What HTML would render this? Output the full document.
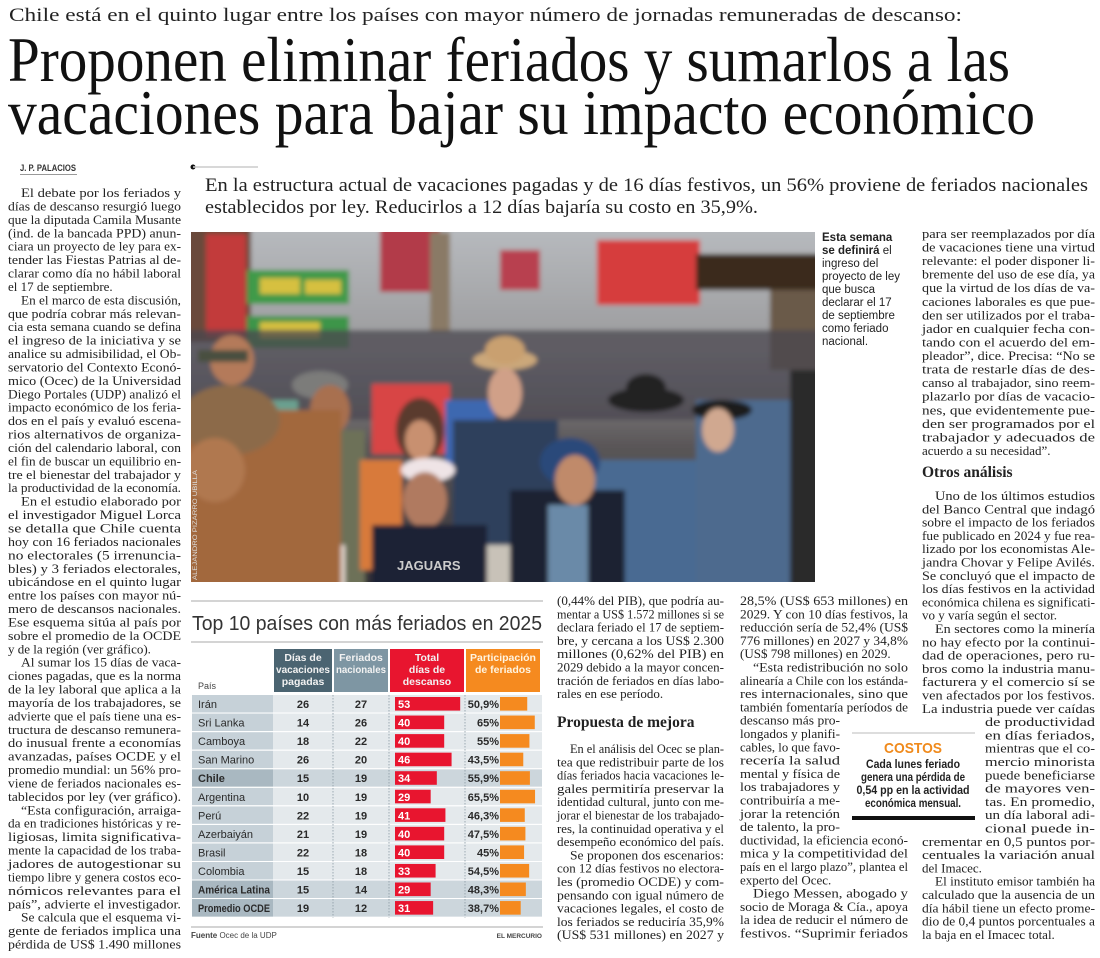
<!DOCTYPE html>
<html><head><meta charset="utf-8"><style>
html,body{margin:0;padding:0;background:#fff;}
svg{display:block;}
.serif{font-family:"Liberation Serif",serif;}
.sans{font-family:"Liberation Sans",sans-serif;}
</style></head><body>
<svg id="page" width="1100" height="958" viewBox="0 0 1100 958" xmlns="http://www.w3.org/2000/svg">
<rect x="0" y="0" width="1100" height="958" fill="#fff"/>
<text class="serif" x="9" y="21" font-size="19" fill="#222" textLength="953" lengthAdjust="spacingAndGlyphs">Chile está en el quinto lugar entre los países con mayor número de jornadas remuneradas de descanso:</text>
<text class="serif" x="8" y="81" font-size="64" fill="#111" textLength="1002" lengthAdjust="spacingAndGlyphs">Proponen eliminar feriados y sumarlos a las</text>
<text class="serif" x="8" y="134" font-size="64" fill="#111" textLength="1027" lengthAdjust="spacingAndGlyphs">vacaciones para bajar su impacto económico</text>
<text class="sans" x="20" y="171" font-size="9" font-weight="bold" fill="#333" textLength="56" lengthAdjust="spacingAndGlyphs">J. P. PALACIOS</text>
<line x1="20" y1="174.5" x2="77" y2="174.5" stroke="#999" stroke-width="1"/>
<circle cx="193" cy="167" r="2.5" fill="#111"/>
<line x1="193" y1="167" x2="258" y2="167" stroke="#ccc" stroke-width="1.5"/>
<text class="serif" x="205" y="191" font-size="18.5" fill="#222" textLength="883" lengthAdjust="spacingAndGlyphs">En la estructura actual de vacaciones pagadas y de 16 días festivos, un 56% proviene de feriados nacionales</text>
<text class="serif" x="205" y="213" font-size="18.5" fill="#222" textLength="553" lengthAdjust="spacingAndGlyphs">establecidos por ley. Reducirlos a 12 días bajaría su costo en 35,9%.</text>

<g id="photo">
<defs>
<clipPath id="pc"><rect x="191" y="232" width="624" height="350"/></clipPath>
<filter id="soft" x="-5%" y="-5%" width="110%" height="110%"><feGaussianBlur stdDeviation="2.5"/></filter>
<linearGradient id="sky" x1="0" y1="0" x2="0" y2="1"><stop offset="0" stop-color="#b9bcc0"/><stop offset="0.35" stop-color="#9a9a9c"/><stop offset="0.6" stop-color="#5a5658"/><stop offset="1" stop-color="#2f2e33"/></linearGradient>
</defs>
<g clip-path="url(#pc)">
<g filter="url(#soft)">
<rect x="180" y="220" width="650" height="375" fill="url(#sky)"/>
<rect x="180" y="220" width="71" height="122" fill="#6a4a3a"/>
<rect x="206" y="234" width="40" height="103" fill="#c23a3a"/>
<rect x="247" y="270" width="102" height="34" fill="#3f9a4a"/>
<rect x="247" y="316" width="102" height="32" fill="#3c9548"/>
<rect x="260" y="278" width="40" height="16" fill="#d6c040"/>
<rect x="305" y="280" width="36" height="14" fill="#d6c040"/>
<rect x="260" y="322" width="60" height="16" fill="#d6c040"/>
<rect x="380" y="220" width="60" height="72" fill="#b23b48"/>
<rect x="430" y="232" width="20" height="100" fill="#8a7a66"/>
<rect x="500" y="250" width="40" height="40" fill="#b84050"/>
<rect x="597" y="240" width="103" height="65" fill="#d63c3c"/>
<rect x="696" y="254" width="134" height="36" fill="#3b2b1e"/>
<rect x="770" y="290" width="60" height="80" fill="#6a5a4a"/>
<rect x="180" y="330" width="650" height="90" fill="#4a4750" opacity="0.75"/>
<ellipse cx="232" cy="360" rx="22" ry="25" fill="#b47a5a"/>
<rect x="198" y="350" width="50" height="12" fill="#4a5040"/>
<rect x="248" y="400" width="50" height="120" fill="#6aa090"/>
<rect x="270" y="410" width="55" height="18" fill="#d8d040"/>
<ellipse cx="320" cy="385" rx="28" ry="14" fill="#7c7c7a"/>
<rect x="265" y="430" width="100" height="170" fill="#6d7158"/>
<ellipse cx="330" cy="410" rx="20" ry="25" fill="#a87050"/>
<rect x="372" y="384" width="78" height="70" fill="#d84444"/>
<rect x="445" y="400" width="50" height="70" fill="#3c68b0"/>
<rect x="360" y="460" width="42" height="110" fill="#d87a3a"/>
<ellipse cx="420" cy="430" rx="24" ry="32" fill="#5a3a2e"/>
<ellipse cx="420" cy="440" rx="15" ry="20" fill="#c89070"/>
<ellipse cx="298" cy="520" rx="25" ry="30" fill="#6a4630"/>
<ellipse cx="298" cy="525" rx="14" ry="18" fill="#d0a080"/>
<rect x="290" y="545" width="55" height="50" fill="#e4d8d0"/>
<rect x="453" y="420" width="105" height="180" fill="#2f3f5c"/>
<rect x="480" y="545" width="55" height="50" fill="#c8c2b8"/>
<ellipse cx="505" cy="360" rx="32" ry="10" fill="#cba77a"/>
<ellipse cx="505" cy="350" rx="20" ry="14" fill="#c9a070"/>
<ellipse cx="505" cy="393" rx="17" ry="25" fill="#d0a088"/>
<ellipse cx="428" cy="470" rx="27" ry="12" fill="#efe4e6"/>
<ellipse cx="425" cy="500" rx="22" ry="28" fill="#b07a60"/>
<rect x="372" y="525" width="115" height="70" fill="#1d2434"/>
<rect x="590" y="460" width="110" height="135" fill="#4a6a92"/>
<rect x="510" y="490" width="115" height="105" fill="#1a2030"/>
<rect x="548" y="505" width="40" height="90" fill="#6a8aa8"/>
<ellipse cx="570" cy="462" rx="30" ry="24" fill="#2a4a7a"/>
<ellipse cx="575" cy="480" rx="20" ry="25" fill="#c08a6a"/>
<ellipse cx="646" cy="400" rx="38" ry="12" fill="#222"/>
<ellipse cx="646" cy="388" rx="20" ry="14" fill="#222"/>
<rect x="696" y="400" width="94" height="195" fill="#4d6a8e"/>
<ellipse cx="722" cy="410" rx="30" ry="10" fill="#1c1c1c"/>
<ellipse cx="718" cy="430" rx="16" ry="22" fill="#d0a890"/>
<rect x="790" y="370" width="40" height="225" fill="#2a2a2a"/>
<rect x="180" y="410" width="161" height="185" fill="#a2683e"/>
<ellipse cx="230" cy="420" rx="50" ry="35" fill="#8c6a4a"/>
<ellipse cx="215" cy="470" rx="30" ry="32" fill="#b07850"/>
</g>
<text x="397" y="570" font-family="Liberation Sans" font-weight="bold" font-size="13" fill="#ccc">JAGUARS</text>
</g>
<text class="sans" transform="translate(197,580) rotate(-90)" font-size="6.5" fill="#ddd" textLength="110" lengthAdjust="spacingAndGlyphs">ALEJANDRO PIZARRO UBILLA</text>
</g>

<g id="caption" class="sans" font-size="11.5" fill="#222">
<text x="822" y="241" font-weight="bold">Esta semana</text>
<text x="822" y="254"><tspan font-weight="bold">se definirá</tspan> el</text>
<text x="822" y="267">ingreso del</text>
<text x="822" y="280">proyecto de ley</text>
<text x="822" y="293">que busca</text>
<text x="822" y="306">declarar el 17</text>
<text x="822" y="319">de septiembre</text>
<text x="822" y="332">como feriado</text>
<text x="822" y="345">nacional.</text>
</g>

<g id="body"></g>

<text class="serif" x="922" y="477" font-size="15.5" font-weight="bold" fill="#222">Otros análisis</text>
<text class="serif" x="557" y="727" font-size="15.5" font-weight="bold" fill="#222">Propuesta de mejora</text>

<g id="costos" class="sans">
<line x1="852" y1="733" x2="975" y2="733" stroke="#bbb" stroke-width="1"/>
<text x="913" y="753" text-anchor="middle" font-size="15" font-weight="bold" fill="#f08a1c" textLength="58" lengthAdjust="spacingAndGlyphs">COSTOS</text>
<text x="913" y="768" text-anchor="middle" font-size="11.5" font-weight="bold" fill="#222" textLength="94" lengthAdjust="spacingAndGlyphs">Cada lunes feriado</text>
<text x="913" y="781" text-anchor="middle" font-size="11.5" font-weight="bold" fill="#222" textLength="104" lengthAdjust="spacingAndGlyphs">genera una pérdida de</text>
<text x="913" y="794" text-anchor="middle" font-size="11.5" font-weight="bold" fill="#222" textLength="113" lengthAdjust="spacingAndGlyphs">0,54 pp en la actividad</text>
<text x="913" y="807" text-anchor="middle" font-size="11.5" font-weight="bold" fill="#222" textLength="96" lengthAdjust="spacingAndGlyphs">económica mensual.</text>
<rect x="852" y="816" width="123" height="4" fill="#111"/>
</g>

<g id="chart" class="sans">
<line x1="191" y1="601" x2="543" y2="601" stroke="#aaa" stroke-width="1"/>
<text x="192" y="630" font-size="20" fill="#333" textLength="350" lengthAdjust="spacingAndGlyphs">Top 10 países con más feriados en 2025</text>
<line x1="191" y1="642" x2="543" y2="642" stroke="#aaa" stroke-width="1"/>
<g id="chart-head"></g>
<g id="chart-rows"></g>
<line x1="191" y1="927" x2="543" y2="927" stroke="#aaa" stroke-width="1"/>
<text x="191" y="938" font-size="8" fill="#444"><tspan font-weight="bold">Fuente</tspan>  Ocec de la UDP</text>
<text x="542" y="938" font-size="6.5" font-weight="bold" fill="#444" text-anchor="end">EL MERCURIO</text>
</g>
</svg>
<script>
// ---- chart data ----
const countries = ["Irán","Sri Lanka","Camboya","San Marino","Chile","Argentina","Perú","Azerbaiyán","Brasil","Colombia","América Latina","Promedio OCDE"];
const vacaciones = [26,14,18,26,15,10,22,21,22,15,15,19];
const feriados = [27,26,22,20,19,19,19,19,18,18,14,12];
const totalDias = [53,40,40,46,34,29,41,40,40,33,29,31];
const participacion = [50.9,65,55,43.5,55.9,65.5,46.3,47.5,45,54.5,48.3,38.7];
const highlighted = ["Chile","América Latina","Promedio OCDE"];
const headers = ["Días de|vacaciones|pagadas","Feriados|nacionales","Total|días de|descanso","Participación|de feriados"];

const NS = "http://www.w3.org/2000/svg";
function mk(tag, attrs, parent){ const e=document.createElementNS(NS,tag); for(const k in attrs) e.setAttribute(k,attrs[k]); parent.appendChild(e); return e; }

const rowTop0 = 695, rowPitch = 18.55, rowH = 17.6;
function yRow(i){ return rowTop0 + i*rowPitch; }
const redX0 = 395, redScale = 1.23;
function xRed(v){ return v*redScale; }
const orX0 = 500, orScale = 0.535;
function xOr(v){ return v*orScale; }
function fmtPct(v){ return String(v).replace('.',',') + '%'; }

const head = document.getElementById('chart-head');
const colX = [274,334,390,466], colW = [58,54,74,74], colFill = ["#4b6471","#7e96a3","#e8152f","#f58a1f"];
headers.forEach((h,j)=>{
  const r = mk('rect',{x:colX[j],y:649,width:colW[j],height:43,fill:colFill[j]},head);
  
  
  const parts = h.split('|');
  parts.forEach((p,k)=>{
    const t = mk('text',{x:colX[j]+colW[j]/2,y:661+k*12,'text-anchor':'middle','font-size':10.5,'font-weight':'bold',fill: j==3?'#fff4e0':'#f2f2f2'},head);
    
    
    t.textContent = p;
    const L = t.getComputedTextLength();
    if(L > colW[j]-4){ t.setAttribute('textLength', colW[j]-4); t.setAttribute('lengthAdjust','spacingAndGlyphs'); }
  });
});
const ph = mk('text',{x:198,y:689,'font-size':9,fill:'#444'},head);


ph.textContent = 'País';

const rows = document.getElementById('chart-rows');
countries.forEach((c,i)=>{
  const y = yRow(i);
  const hi = highlighted.indexOf(c) >= 0;
  const bgA = mk('rect',{x:192,y:y,width:81,height:rowH,fill: hi?'#a9b8c1':'#c6d1d8'},rows);
  
  
  const bgB = mk('rect',{x:273,y:y,width:269,height:rowH,fill: hi?'#ccd6dc':'#e4e9ec'},rows);
  
  
  const ct = mk('text',{x:198,y:y+13,'font-size':11,fill:'#2a2a2a','font-weight': hi?'bold':'normal'},rows);
  
  
  ct.textContent = c;
  if(ct.getComputedTextLength() > 72){ ct.setAttribute('textLength',72); ct.setAttribute('lengthAdjust','spacingAndGlyphs'); }
  const v1 = mk('text',{x:303,y:y+13,'font-size':11,'font-weight':'bold',fill:'#2a2a2a','text-anchor':'middle'},rows);
  
  
  v1.textContent = vacaciones[i];
  const v2 = mk('text',{x:361,y:y+13,'font-size':11,'font-weight':'bold',fill:'#2a2a2a','text-anchor':'middle'},rows);
  
  
  v2.textContent = feriados[i];
  const rb = mk('rect',{x:redX0,y:y+2,width:xRed(totalDias[i]),height:rowH-4,fill:'#e8152f'},rows);
  
  
  const rt = mk('text',{x:redX0+3,y:y+13,'font-size':11,'font-weight':'bold',fill:'#fff'},rows);
  
  
  rt.textContent = totalDias[i];
  const ob = mk('rect',{x:orX0,y:y+2,width:xOr(participacion[i]),height:rowH-4,fill:'#f58a1f'},rows);
  
  
  const ot = mk('text',{x:orX0-1,y:y+13,'font-size':11,'font-weight':'bold',fill:'#2a2a2a','text-anchor':'end'},rows);
  
  
  ot.textContent = fmtPct(participacion[i]);
  if(i>0){
    const ln = mk('line',{x1:192,y1:y-0.5,x2:542,y2:y-0.5,stroke:'#fff','stroke-width':1},rows);
    
    
  }
});
[333,389,465].forEach(x=>{
  const d = mk('line',{x1:x,y1:695,x2:x,y2:yRow(countries.length),stroke:'#8a9aa4','stroke-width':0.8,'stroke-dasharray':'1.5,1.5'},rows);
  
  
});

// ---- article body text ----
const colLeft = ["~El debate por los feriados y","días de descanso resurgió luego","que la diputada Camila Musante","(ind. de la bancada PPD) anun-","ciara un proyecto de ley para ex-","tender las Fiestas Patrias al de-","clarar como día no hábil laboral","el 17 de septiembre.#","~En el marco de esta discusión,","que podría cobrar más relevan-","cia esta semana cuando se defina","el ingreso de la iniciativa y se","analice su admisibilidad, el Ob-","servatorio del Contexto Econó-","mico (Ocec) de la Universidad","Diego Portales (UDP) analizó el","impacto económico de los feria-","dos en el país y evaluó escena-","rios alternativos de organiza-","ción del calendario laboral, con","el fin de buscar un equilibrio en-","tre el bienestar del trabajador y","la productividad de la economía.","~En el estudio elaborado por","el investigador Miguel Lorca","se detalla que Chile cuenta","hoy con 16 feriados nacionales","no electorales (5 irrenuncia-","bles) y 3 feriados electorales,","ubicándose en el quinto lugar","entre los países con mayor nú-","mero de descansos nacionales.","Ese esquema sitúa al país por","sobre el promedio de la OCDE","y de la región (ver gráfico).#","~Al sumar los 15 días de vaca-","ciones pagadas, que es la norma","de la ley laboral que aplica a la","mayoría de los trabajadores, se","advierte que el país tiene una es-","tructura de descanso remunera-","do inusual frente a economías","avanzadas, países OCDE y el","promedio mundial: un 56% pro-","viene de feriados nacionales es-","tablecidos por ley (ver gráfico).","~“Esta configuración, arraiga-","da en tradiciones históricas y re-","ligiosas, limita significativa-","mente la capacidad de los traba-","jadores de autogestionar su","tiempo libre y genera costos eco-","nómicos relevantes para el","país”, advierte el investigador.","~Se calcula que el esquema vi-","gente de feriados implica una","pérdida de US$ 1.490 millones"];
const colMid1 = ["(0,44% del PIB), que podría au-","mentar a US$ 1.572 millones si se","declara feriado el 17 de septiem-","bre, y cercana a los US$ 2.300","millones (0,62% del PIB) en","2029 debido a la mayor concen-","tración de feriados en días labo-","rales en ese período.#"];
const colMid2 = ["~En el análisis del Ocec se plan-","tea que redistribuir parte de los","días feriados hacia vacaciones le-","gales permitiría preservar la","identidad cultural, junto con me-","jorar el bienestar de los trabajado-","res, la continuidad operativa y el","desempeño económico del país.","~Se proponen dos escenarios:","con 12 días festivos no electora-","les (promedio OCDE) y com-","pensando con igual número de","vacaciones legales, el costo de","los feriados se reduciría 35,9%","(US$ 531 millones) en 2027 y"];
const col4a = ["28,5% (US$ 653 millones) en","2029. Y con 10 días festivos, la","reducción sería de 52,4% (US$","776 millones) en 2027 y 34,8%","(US$ 798 millones) en 2029.#","~“Esta redistribución no solo","alinearía a Chile con los estánda-","res internacionales, sino que","también fomentaría períodos de"];
const col4b = ["descanso más pro-","longados y planifi-","cables, lo que favo-","recería la salud","mental y física de","los trabajadores y","contribuiría a me-","jorar la retención","de talento, la pro-"];
const col4c = ["ductividad, la eficiencia econó-","mica y la competitividad del","país en el largo plazo”, plantea el","experto del Ocec.#","~Diego Messen, abogado y","socio de Moraga & Cía., apoya","la idea de reducir el número de","festivos. “Suprimir feriados"];
const colR1 = ["para ser reemplazados por día","de vacaciones tiene una virtud","relevante: el poder disponer li-","bremente del uso de ese día, ya","que la virtud de los días de va-","caciones laborales es que pue-","den ser utilizados por el traba-","jador en cualquier fecha con-","tando con el acuerdo del em-","pleador”, dice. Precisa: “No se","trata de restarle días de des-","canso al trabajador, sino reem-","plazarlo por días de vacacio-","nes, que evidentemente pue-","den ser programados por el","trabajador y adecuados de","acuerdo a su necesidad”.#"];
const colR2 = ["~Uno de los últimos estudios","del Banco Central que indagó","sobre el impacto de los feriados","fue publicado en 2024 y fue rea-","lizado por los economistas Ale-","jandra Chovar y Felipe Avilés.","Se concluyó que el impacto de","los días festivos en la actividad","económica chilena es significati-","vo y varía según el sector.#","~En sectores como la minería","no hay efecto por la continui-","dad de operaciones, pero ru-","bros como la industria manu-","facturera y el comercio sí se","ven afectados por los festivos.","La industria puede ver caídas"];
const colR3 = ["de productividad","en días feriados,","mientras que el co-","mercio minorista","puede beneficiarse","de mayores ven-","tas. En promedio,","un día laboral adi-","cional puede in-"];
const colR4 = ["crementar en 0,5 puntos por-","centuales la variación anual","del Imacec.#","~El instituto emisor también ha","calculado que la ausencia de un","día hábil tiene un efecto prome-","dio de 0,4 puntos porcentuales a","la baja en el Imacec total.#"];

const body = document.getElementById('body');
function drawBlock(lines, x, y, pitch, w){
  lines.forEach((raw,i)=>{
    let s = raw, ind = 0, last = false;
    if(s[0]==='~'){ s = s.slice(1); ind = 13; }
    if(s[s.length-1]==='#'){ s = s.slice(0,-1); last = true; }
    const t = mk('text',{x:x+ind,y:y+i*pitch,'font-size':13,fill:'#222','font-family':'Liberation Serif, serif'},body);
    
    
    t.textContent = s;
    const nat = t.getComputedTextLength();
    if(!last || nat > w-ind){
      t.setAttribute('textLength', w-ind);
      t.setAttribute('lengthAdjust','spacingAndGlyphs');
    }
  });
  return y + lines.length*pitch;
}
drawBlock(colLeft, 8, 197, 13.42, 173);
drawBlock(colMid1, 557, 605, 13.3, 167);
drawBlock(colMid2, 557, 753, 13.3, 167);
let y4 = drawBlock(col4a, 740, 605, 13.3, 168);
y4 = drawBlock(col4b, 740, y4, 13.3, 100);
drawBlock(col4c, 740, y4, 13.3, 168);
drawBlock(colR1, 922, 238, 13.56, 173);
let yr = drawBlock(colR2, 922, 500, 13.3, 173);
yr = drawBlock(colR3, 985, yr, 13.3, 110);
drawBlock(colR4, 922, yr, 13.3, 173);
</script>
</body></html>
